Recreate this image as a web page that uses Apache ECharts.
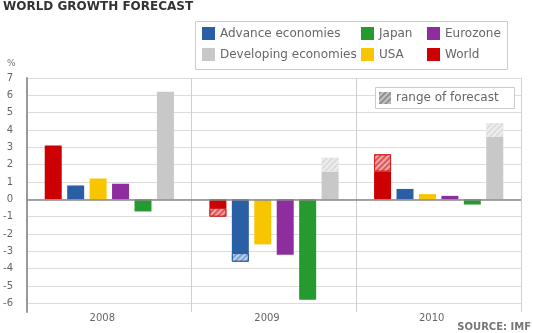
<!DOCTYPE html>
<html>
<head>
<meta charset="utf-8">
<script src="https://cdn.jsdelivr.net/npm/echarts@6/dist/echarts.min.js"></script>
<style>
html,body{margin:0;padding:0;background:#fff;}
#c{width:533px;height:333px;}
</style>
</head>
<body>
<div id="c"></div>
<script>
const categories = ['2008', '2009', '2010'];
const world = [3.1, -0.5, 1.6];
const worldRange = [null, -0.5, 1.0];
const advance = [0.8, -3.1, 0.6];
const advanceRange = [null, -0.5, null];
const usa = [1.2, -2.6, 0.3];
const eurozone = [0.9, -3.2, 0.2];
const japan = [-0.7, -5.8, -0.3];
const developing = [6.2, 1.6, 3.6];
const developingRange = [null, 0.8, 0.8];

const FONT = 'DejaVu Sans';
const chart = echarts.init(document.getElementById('c'), null, {renderer: 'canvas'});

function hatch(col) {
  return { symbol: 'rect', symbolSize: 1, dashArrayX: [1, 0], dashArrayY: [1.5, 2], rotation: -Math.PI / 4, color: col };
}
const barCommon = { type: 'bar', barWidth: 17, barGap: '32%', barCategoryGap: '21%' };
const legendCommon = { orient: 'vertical', padding: 0, itemWidth: 13, itemHeight: 13, itemGap: 8, itemTextGap: 4, icon: 'rect',
  textStyle: { color: '#666', fontSize: 12, fontFamily: FONT } };

const option = {
  animation: false,
  textStyle: { fontFamily: FONT },
  grid: { left: 27, right: 12, top: 78, bottom: 21 },
  xAxis: [{
    type: 'category', data: categories,
    axisLine: { show: false, onZero: false },
    axisTick: { show: false },
    axisLabel: { color: '#666', fontSize: 10, margin: 1, fontFamily: FONT, padding: [0, 14, 0, 0] },
    splitLine: { show: true, lineStyle: { color: '#cfcfcf', width: 1 } }
  }, {
    type: 'category', data: categories, show: false
  }],
  yAxis: {
    type: 'value', min: -6.5, max: 7, interval: 0.5,
    axisLine: { show: true, lineStyle: { color: '#999', width: 2 } },
    axisTick: { show: false },
    axisLabel: { color: '#666', fontSize: 10, margin: 14, fontFamily: FONT,
      formatter: v => Number.isInteger(v) ? String(v) : '' },
    splitLine: { show: true, lineStyle: { color: ['rgba(0,0,0,0)', '#dcdcdc'], width: 1 } }
  },
  legend: [
    Object.assign({}, legendCommon, { left: 202, top: 27, data: ['Advance economies', 'Developing economies'] }),
    Object.assign({}, legendCommon, { left: 361, top: 27, data: ['Japan', 'USA'] }),
    Object.assign({}, legendCommon, { left: 427, top: 27, data: ['Eurozone', 'World'] }),
    Object.assign({}, legendCommon, { left: 379, top: 92, itemWidth: 12, itemHeight: 12, itemTextGap: 9, data: ['range of forecast'] })
  ],
  graphic: [
    { type: 'text', left: 3, top: 1, style: { text: 'WORLD GROWTH FORECAST', font: 'bold 12px "DejaVu Sans"', fill: '#333' } },
    { type: 'rect', shape: { x: 195.5, y: 21.5, width: 312, height: 48 }, style: { fill: 'none', stroke: '#ccc', lineWidth: 1 }, z: 10 },
    { type: 'rect', shape: { x: 375.5, y: 87.5, width: 139, height: 21 }, style: { fill: '#fff', stroke: '#ccc', lineWidth: 1 }, z: 1 },
    { type: 'text', left: 7, top: 59, style: { text: '%', font: '9px "DejaVu Sans"', fill: '#777' } },
    { type: 'text', right: 2, top: 322, style: { text: 'SOURCE: IMF', font: 'bold 10px "DejaVu Sans"', fill: '#777' } }
  ],
  series: [
    Object.assign({}, barCommon, { name: 'World', stack: 'w', data: world, itemStyle: { color: '#cc0000' },
      markLine: { silent: true, symbol: 'none', label: { show: false }, lineStyle: { color: '#888', width: 1.5, type: 'solid' }, data: [{ yAxis: 0 }] } }),
    Object.assign({}, barCommon, { name: 'World range', stack: 'w', data: worldRange,
      itemStyle: { color: '#e25555', borderColor: '#d32020', borderWidth: 1, decal: hatch('rgba(255,255,255,0.5)') } }),
    Object.assign({}, barCommon, { name: 'Advance economies', stack: 'a', data: advance, itemStyle: { color: '#2b5fa5' } }),
    Object.assign({}, barCommon, { name: 'Advance range', stack: 'a', data: advanceRange,
      itemStyle: { color: '#7fa2d4', borderColor: '#2b5fa5', borderWidth: 1, decal: hatch('rgba(255,255,255,0.5)') } }),
    Object.assign({}, barCommon, { name: 'USA', stack: 'u', data: usa, itemStyle: { color: '#f7c600' } }),
    Object.assign({}, barCommon, { name: 'Eurozone', stack: 'e', data: eurozone, itemStyle: { color: '#8e2e9e' } }),
    Object.assign({}, barCommon, { name: 'Japan', stack: 'j', data: japan, itemStyle: { color: '#249a2f' } }),
    Object.assign({}, barCommon, { name: 'Developing economies', stack: 'd', data: developing, itemStyle: { color: '#c8c8c8' } }),
    Object.assign({}, barCommon, { name: 'Developing range', stack: 'd', data: developingRange,
      itemStyle: { color: '#dcdcdc', decal: hatch('rgba(255,255,255,0.5)') } }),
    { type: 'bar', name: 'range of forecast', xAxisIndex: 1, data: [],
      itemStyle: { color: '#c4c4c4', decal: hatch('rgba(90,90,90,0.5)') } }
  ]
};
chart.setOption(option);
</script>
</body>
</html>
